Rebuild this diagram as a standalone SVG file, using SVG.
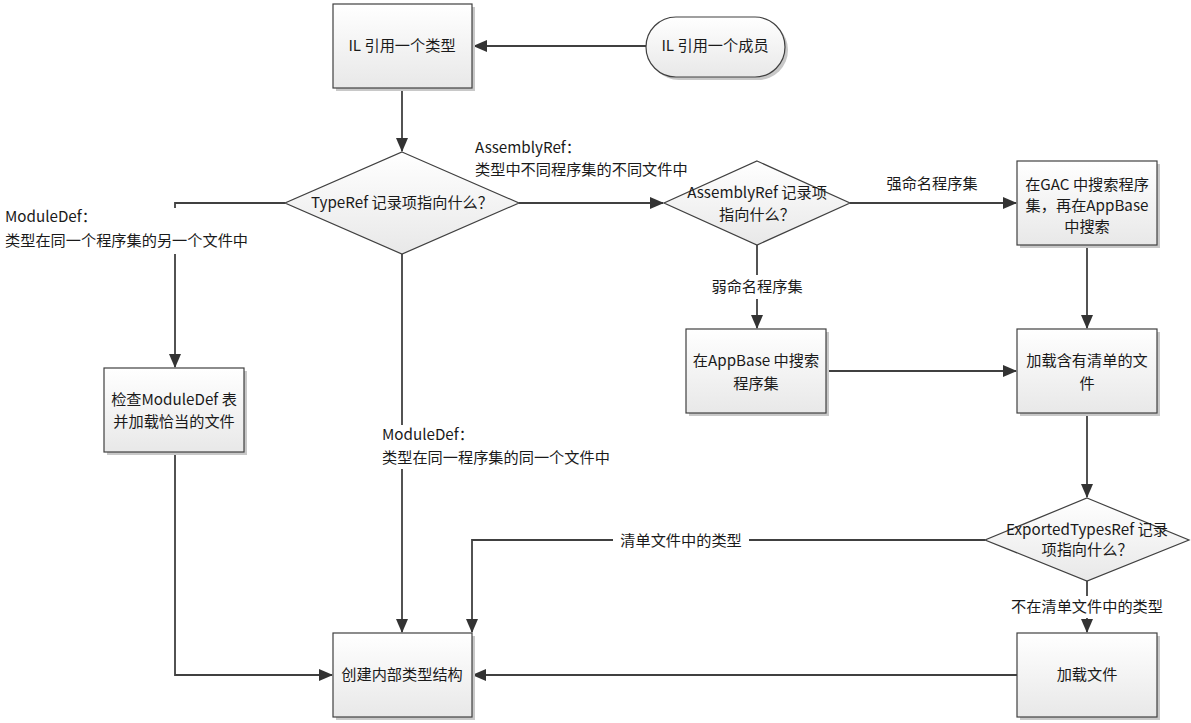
<svg xmlns="http://www.w3.org/2000/svg" width="1191" height="723" viewBox="0 0 1191 723">
<style>
text{font-family:"Noto Sans CJK SC","Microsoft YaHei",sans-serif;font-size:15.2px;fill:#1a1a1a}
.c{text-anchor:middle}
.box{fill:url(#g);stroke:#404040;stroke-width:1.2}
.sh{fill:#c8c8c8}
.ln{fill:none;stroke:#404040;stroke-width:1.8}
.bg{fill:#fff}
</style>
<defs>
<linearGradient id="g" x1="0" y1="0" x2="0" y2="1"><stop offset="0" stop-color="#ffffff"/><stop offset="1" stop-color="#e8e8e8"/></linearGradient>
<marker id="a" markerUnits="userSpaceOnUse" markerWidth="14" markerHeight="12" refX="13" refY="6" orient="auto"><path d="M0,0 L14,6 L0,12 z" fill="#333"/></marker>
</defs>
<rect width="1191" height="723" fill="#fff"/>
<g id="connectors">
<path class="ln" d="M646,46 H474" marker-end="url(#a)"/>
<path class="ln" d="M402,88 V151" marker-end="url(#a)"/>
<path class="ln" d="M285,203 H175 V367" marker-end="url(#a)"/>
<path class="ln" d="M519,203 H663" marker-end="url(#a)"/>
<path class="ln" d="M402,254 V632" marker-end="url(#a)"/>
<path class="ln" d="M850,203 H1016" marker-end="url(#a)"/>
<path class="ln" d="M757,245 V328" marker-end="url(#a)"/>
<path class="ln" d="M1087,245 V328" marker-end="url(#a)"/>
<path class="ln" d="M826,371 H1016" marker-end="url(#a)"/>
<path class="ln" d="M1087,413 V497" marker-end="url(#a)"/>
<path class="ln" d="M985,540 H472 V632" marker-end="url(#a)"/>
<path class="ln" d="M1087,580 V632" marker-end="url(#a)"/>
<path class="ln" d="M1017,675 H473" marker-end="url(#a)"/>
<path class="ln" d="M175,452 V675 H332" marker-end="url(#a)"/>
<rect class="bg" x="2" y="208" width="254" height="46"/>
<text x="5" y="222">ModuleDef：</text>
<text x="5" y="246">类型在同一个程序集的另一个文件中</text>
<rect class="bg" x="380" y="425" width="240" height="44"/>
<text x="382" y="440">ModuleDef：</text>
<text x="382" y="463">类型在同一程序集的同一个文件中</text>
<text x="475" y="153">AssemblyRef：</text>
<text x="475" y="175">类型中不同程序集的不同文件中</text>
<text x="932" y="189" class="c">强命名程序集</text>
<rect class="bg" x="700" y="275" width="114" height="24"/>
<text x="757" y="292" class="c">弱命名程序集</text>
<rect class="bg" x="613" y="530" width="136" height="22"/>
<text x="681" y="546" class="c">清单文件中的类型</text>
<rect class="bg" x="1003" y="596" width="168" height="22"/>
<text x="1087" y="612" class="c">不在清单文件中的类型</text>
</g>
<g id="n1"><rect class="sh" x="336" y="7" width="139" height="84"/><rect class="box" x="333" y="4" width="139" height="84"/><text x="402" y="51" class="c">IL 引用一个类型</text></g>
<g id="n2"><rect class="sh" x="649" y="20" width="139" height="60" rx="30"/><rect class="box" x="646" y="17" width="139" height="60" rx="30"/><text x="715" y="51" class="c">IL 引用一个成员</text></g>
<g id="n3"><polygon class="box" points="402,152 519,203 402,254 285,203"/><text x="402" y="208" class="c">TypeRef 记录项指向什么？</text></g>
<g id="n4"><polygon class="box" points="757,161 850,203 757,245 664,203"/><text x="757" y="198" class="c">AssemblyRef 记录项</text><text x="757" y="220" class="c">指向什么？</text></g>
<g id="n5"><rect class="sh" x="1020" y="164" width="140" height="84"/><rect class="box" x="1017" y="161" width="140" height="84"/><text x="1087" y="190" class="c">在GAC 中搜索程序</text><text x="1087" y="211" class="c">集，再在AppBase</text><text x="1087" y="232" class="c">中搜索</text></g>
<g id="n6"><rect class="sh" x="689" y="332" width="140" height="84"/><rect class="box" x="686" y="329" width="140" height="84"/><text x="756" y="366" class="c">在AppBase 中搜索</text><text x="756" y="389" class="c">程序集</text></g>
<g id="n7"><rect class="sh" x="1020" y="332" width="140" height="84"/><rect class="box" x="1017" y="329" width="140" height="84"/><text x="1087" y="366" class="c">加载含有清单的文</text><text x="1087" y="389" class="c">件</text></g>
<g id="n8"><rect class="sh" x="107" y="371" width="140" height="84"/><rect class="box" x="104" y="368" width="140" height="84"/><text x="174" y="405" class="c">检查ModuleDef 表</text><text x="174" y="427" class="c">并加载恰当的文件</text></g>
<g id="n9"><polygon class="box" points="1087,498 1189,540 1087,581 985,540"/><text x="1087" y="535" class="c">ExportedTypesRef 记录</text><text x="1087" y="555" class="c">项指向什么？</text></g>
<g id="n10"><rect class="sh" x="336" y="636" width="139" height="84"/><rect class="box" x="333" y="633" width="139" height="84"/><text x="402" y="680" class="c">创建内部类型结构</text></g>
<g id="n11"><rect class="sh" x="1020" y="636" width="140" height="84"/><rect class="box" x="1017" y="633" width="140" height="84"/><text x="1087" y="680" class="c">加载文件</text></g>
</svg>
